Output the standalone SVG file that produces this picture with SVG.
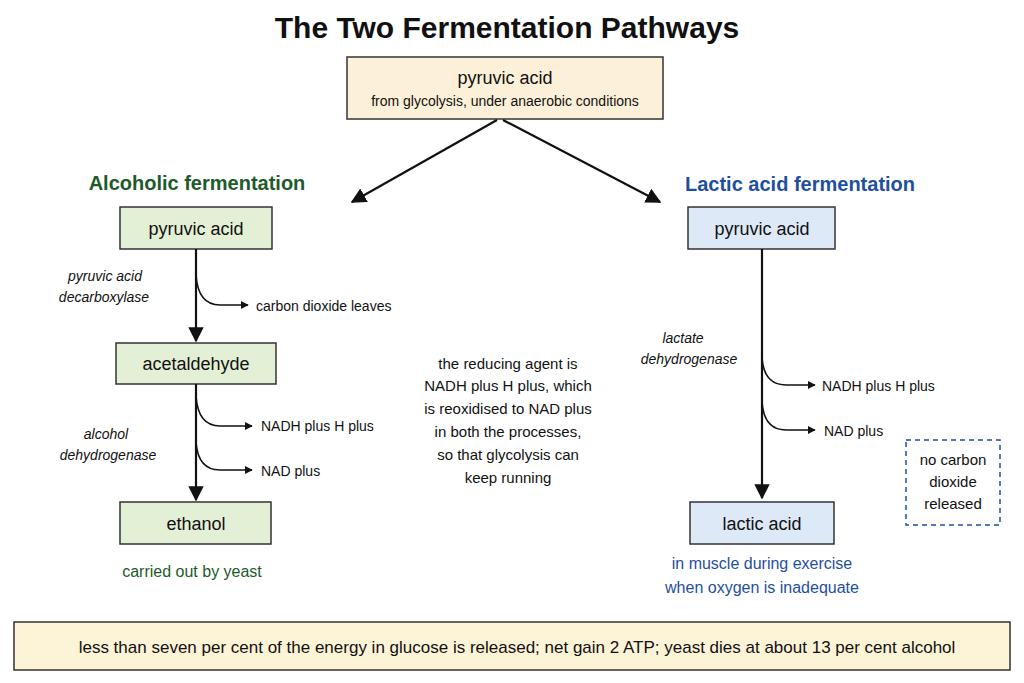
<svg xmlns="http://www.w3.org/2000/svg" width="1024" height="683" viewBox="0 0 1024 683">
<defs>
<marker id="ah" viewBox="0 0 10 10" refX="9" refY="5" markerWidth="7" markerHeight="7" orient="auto-start-reverse"><path d="M0,0 L10,5 L0,10 z" fill="#111"/></marker>
<marker id="ahs" viewBox="0 0 10 10" refX="9" refY="5" markerWidth="5" markerHeight="5" orient="auto"><path d="M0,0 L10,5 L0,10 z" fill="#111"/></marker>
<style>
text{font-family:"Liberation Sans",Arial,sans-serif;fill:#111}
.box{stroke:#333;stroke-width:1.5}
.g{fill:#e4f0d6}.b{fill:#dde9f7}.y{fill:#fdf0d8}
.n{font-size:18px;text-anchor:middle}
.s{font-size:14px}
.i{font-size:14px;font-style:italic;text-anchor:middle}
.c{font-size:15px;text-anchor:middle}
.ln{stroke:#111;stroke-width:2.2;fill:none}
.br{stroke:#111;stroke-width:1.6;fill:none}
</style>
</defs>
<rect width="1024" height="683" fill="#fff"/>
<text x="507" y="38" font-size="30" font-weight="bold" text-anchor="middle">The Two Fermentation Pathways</text>
<g id="top"><rect class="box y" x="347" y="57" width="316" height="62"/><text class="n" x="505" y="84">pyruvic acid</text><text class="s" x="505" y="106" text-anchor="middle">from glycolysis, under anaerobic conditions</text></g>
<text x="197" y="190" font-size="20" font-weight="bold" text-anchor="middle" style="fill:#1e5a2a">Alcoholic fermentation</text>
<text x="800" y="191" font-size="20" font-weight="bold" text-anchor="middle" style="fill:#1f4fa0">Lactic acid fermentation</text>
<g id="a1"><rect class="box g" x="120" y="207" width="152" height="42"/><text class="n" x="196" y="235">pyruvic acid</text></g>
<g id="a2"><rect class="box g" x="116" y="343" width="160" height="41"/><text class="n" x="196" y="370">acetaldehyde</text></g>
<g id="a3"><rect class="box g" x="120" y="502" width="151" height="42"/><text class="n" x="196" y="530">ethanol</text></g>
<g id="l1"><rect class="box b" x="688" y="207" width="147" height="42"/><text class="n" x="762" y="235">pyruvic acid</text></g>
<g id="l2"><rect class="box b" x="690" y="502" width="144" height="42"/><text class="n" x="762" y="530">lactic acid</text></g>
<g id="note"><rect x="906" y="440" width="94" height="85" fill="#fff" stroke="#1f4fa0" stroke-width="1.5" stroke-dasharray="5,4"/><text class="c" x="953" y="465" font-size="14">no carbon</text><text class="c" x="953" y="487" font-size="14">dioxide</text><text class="c" x="953" y="509" font-size="14">released</text></g>
<g id="connectors">
<line class="ln" x1="497" y1="120" x2="352" y2="202" marker-end="url(#ah)"/>
<line class="ln" x1="503" y1="120" x2="660" y2="202" marker-end="url(#ah)"/>
<line class="ln" x1="196" y1="249" x2="196" y2="341" marker-end="url(#ah)"/>
<line class="ln" x1="196" y1="384" x2="196" y2="500" marker-end="url(#ah)"/>
<line class="ln" x1="762" y1="249" x2="762" y2="498" marker-end="url(#ah)"/>
<path class="br" d="M196,275 Q198,305 220,305 L248,305" marker-end="url(#ahs)"/>
<path class="br" d="M196,396 Q198,426 220,426 L252,426" marker-end="url(#ahs)"/>
<path class="br" d="M196,442 Q198,470 220,470 L252,470" marker-end="url(#ahs)"/>
<path class="br" d="M762,358 Q764,385 786,385 L815,385" marker-end="url(#ahs)"/>
<path class="br" d="M762,402 Q764,430 786,430 L815,430" marker-end="url(#ahs)"/>
</g>
<text class="s" x="256" y="311">carbon dioxide leaves</text>
<text class="s" x="261" y="431">NADH plus H plus</text>
<text class="s" x="261" y="476">NAD plus</text>
<text class="s" x="822" y="391">NADH plus H plus</text>
<text class="s" x="824" y="436">NAD plus</text>
<text class="i" x="105" y="281">pyruvic acid</text><text class="i" x="104" y="302">decarboxylase</text>
<text class="i" x="106" y="439">alcohol</text><text class="i" x="108" y="460">dehydrogenase</text>
<text class="i" x="683" y="343">lactate</text><text class="i" x="689" y="364">dehydrogenase</text>
<g id="center"><text class="c" x="508" y="369">the reducing agent is</text><text class="c" x="508" y="391">NADH plus H plus, which</text><text class="c" x="508" y="414">is reoxidised to NAD plus</text><text class="c" x="508" y="437">in both the processes,</text><text class="c" x="508" y="460">so that glycolysis can</text><text class="c" x="508" y="483">keep running</text></g>
<text x="192" y="577" font-size="16" text-anchor="middle" style="fill:#1e5a2a">carried out by yeast</text>
<text x="762" y="569" font-size="16" text-anchor="middle" style="fill:#1f4fa0">in muscle during exercise</text>
<text x="762" y="593" font-size="16" text-anchor="middle" style="fill:#1f4fa0">when oxygen is inadequate</text>
<g id="bottom"><rect class="box" x="14" y="622" width="996" height="48" fill="#fdf3d6"/><text x="517" y="653" font-size="17" text-anchor="middle">less than seven per cent of the energy in glucose is released; net gain 2 ATP; yeast dies at about 13 per cent alcohol</text></g>
</svg>
